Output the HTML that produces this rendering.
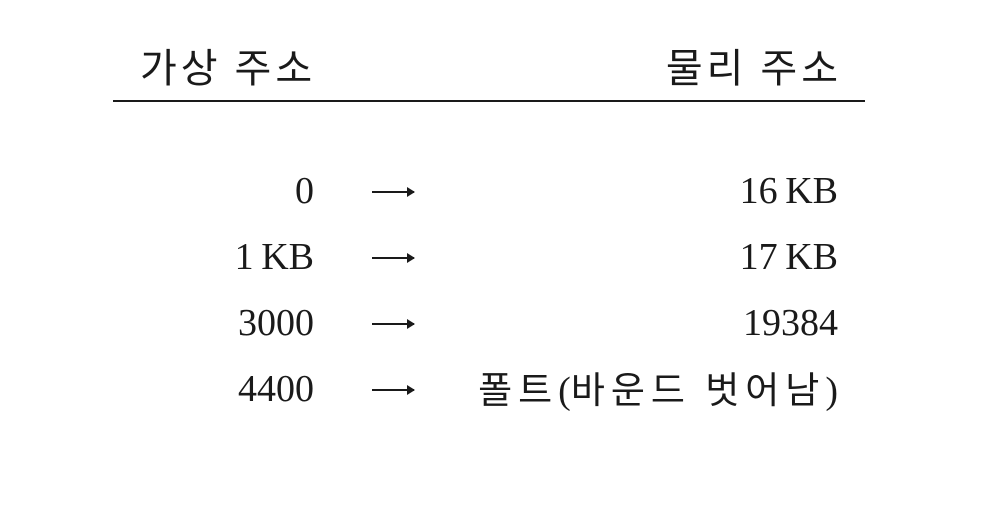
<!DOCTYPE html>
<html><head><meta charset="utf-8">
<style>
html,body{margin:0;padding:0;background:#fff;}
#root{position:relative;width:1006px;height:516px;overflow:hidden;background:#fff;color:#1a1a1a;}
.t{position:absolute;white-space:nowrap;font-family:"Liberation Serif","Noto Serif CJK SC","Noto Sans CJK KR",serif;font-size:38px;line-height:38px;}
.k{font-family:"Noto Sans CJK KR",sans-serif;font-size:40px;font-weight:400;letter-spacing:4px;}
.r{text-align:right;}
.rule{position:absolute;left:113px;top:100px;width:752px;height:2px;background:#1a1a1a;}
.arrow{position:absolute;left:372px;width:42px;height:2px;background:#1a1a1a;}
.arrow:after{content:"";position:absolute;right:-1px;top:-4px;border-left:8px solid #1a1a1a;border-top:5px solid transparent;border-bottom:5px solid transparent;}
.kk{font-family:"Noto Sans CJK KR",sans-serif;font-size:37px;letter-spacing:6px;word-spacing:0px;}
</style></head><body>
<div id="root">
  <div class="t k" style="left:140px;top:46px;">가상 주소</div>
  <div class="t k r" style="right:164px;top:46px;">물리 주소</div>
  <div class="rule"></div>

  <div class="t r" style="right:692px;top:172px;">0</div>
  <div class="arrow" style="top:191px;"></div>
  <div class="t r" style="right:168px;top:172px;">16&#8201;KB</div>

  <div class="t r" style="right:692px;top:238px;">1&#8201;KB</div>
  <div class="arrow" style="top:257px;"></div>
  <div class="t r" style="right:168px;top:238px;">17&#8201;KB</div>

  <div class="t r" style="right:692px;top:304px;">3000</div>
  <div class="arrow" style="top:323px;"></div>
  <div class="t r" style="right:168px;top:304px;">19384</div>

  <div class="t r" style="right:692px;top:370px;">4400</div>
  <div class="arrow" style="top:389px;"></div>
  <div class="t r" style="right:168px;top:368px;"><span class="kk">폴트</span>(<span class="kk">바운드 벗어남</span>)</div>
</div>
</body></html>
